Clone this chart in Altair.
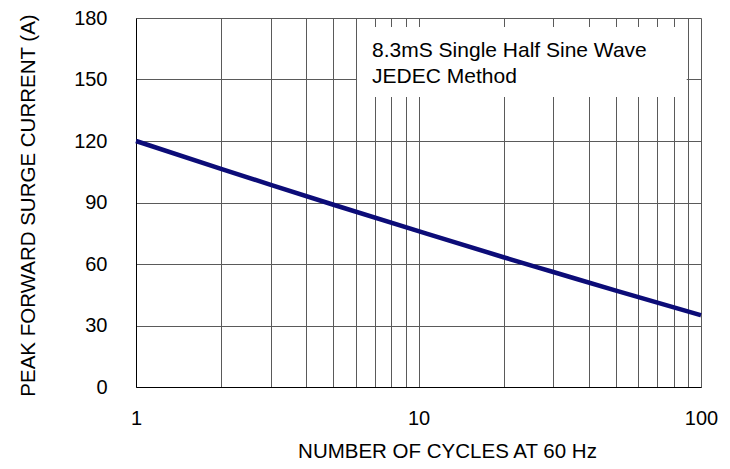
import altair as alt
import pandas as pd

cycles = [1, 2, 3, 5, 10, 20, 30, 50, 100]
current = [120, 106.4, 98.6, 88.9, 76, 63.3, 56.1, 47, 35]
x_ticks = [1, 2, 3, 4, 5, 6, 7, 8, 9, 10, 20, 30, 40, 50, 60, 70, 80, 90, 100]
y_ticks = [0, 30, 60, 90, 120, 150, 180]
note_lines = ["8.3mS Single Half Sine Wave", "JEDEC Method"]
note_box = {"x": [6.06], "x2": [89.0], "y": [141.5], "y2": [175.6]}
note_x = [6.85, 6.85]
note_y = [161.0, 148.3]

df = pd.DataFrame({"cycles": cycles, "current": current})
box_df = pd.DataFrame(note_box)
text_df = pd.DataFrame({"x": note_x, "y": note_y, "t": note_lines})

FONT = "Liberation Sans"
GRID = "#5a5a5a"

xscale = alt.Scale(type="log", domain=[1, 100])
yscale = alt.Scale(domain=[0, 180])

base_x = alt.X("cycles:Q", scale=xscale,
               axis=alt.Axis(values=x_ticks, title="NUMBER OF CYCLES AT 60 Hz",
                             labelExpr="(datum.value == 1 || datum.value == 10 || datum.value == 100) ? datum.label : ''",
                             tickSize=0, labelPadding=21,
                             titleX=311, titleY=70, titleBaseline="alphabetic", titleAlign="center",
                             grid=True, gridColor=GRID, gridWidth=1,
                             domainColor="black", labelFont=FONT, titleFont=FONT,
                             labelFontSize=20, titleFontSize=20.5, labelColor="black",
                             titleColor="black", titleFontWeight="normal", labelFlush=False,
                             labelOverlap=False))
base_y = alt.Y("current:Q", scale=yscale,
               axis=alt.Axis(values=y_ticks, title="PEAK FORWARD SURGE CURRENT (A)",
                             tickSize=0, labelPadding=29,
                             titleX=-102, titleY=187, titleBaseline="alphabetic", titleAlign="center",
                             titleAngle=270,
                             grid=True, gridColor=GRID, gridWidth=1,
                             domainColor="black", labelFont=FONT, titleFont=FONT,
                             labelFontSize=20, titleFontSize=20.5, labelColor="black",
                             titleColor="black", titleFontWeight="normal", labelFlush=False))

line = alt.Chart(df).mark_line(color="#0c0c78", strokeWidth=4.5, interpolate="monotone").encode(x=base_x, y=base_y)

box = alt.Chart(box_df).mark_rect(color="white").encode(
    x=alt.X("x:Q", scale=xscale), x2="x2:Q",
    y=alt.Y("y:Q", scale=yscale), y2="y2:Q")

text = alt.Chart(text_df).mark_text(align="left", baseline="alphabetic", font=FONT,
                                    fontSize=21, color="black").encode(
    x=alt.X("x:Q", scale=xscale), y=alt.Y("y:Q", scale=yscale), text="t:N")

chart = alt.layer(line, box, text).properties(
    width=565, height=369,
    autosize=alt.AutoSizeParams(type="none"),
    padding={"left": 128, "top": 10, "right": 20, "bottom": 74},
).configure_view(stroke="black", strokeWidth=1).configure(background="white")

chart.save("out.html", embed_options={"renderer": "svg", "actions": False})
